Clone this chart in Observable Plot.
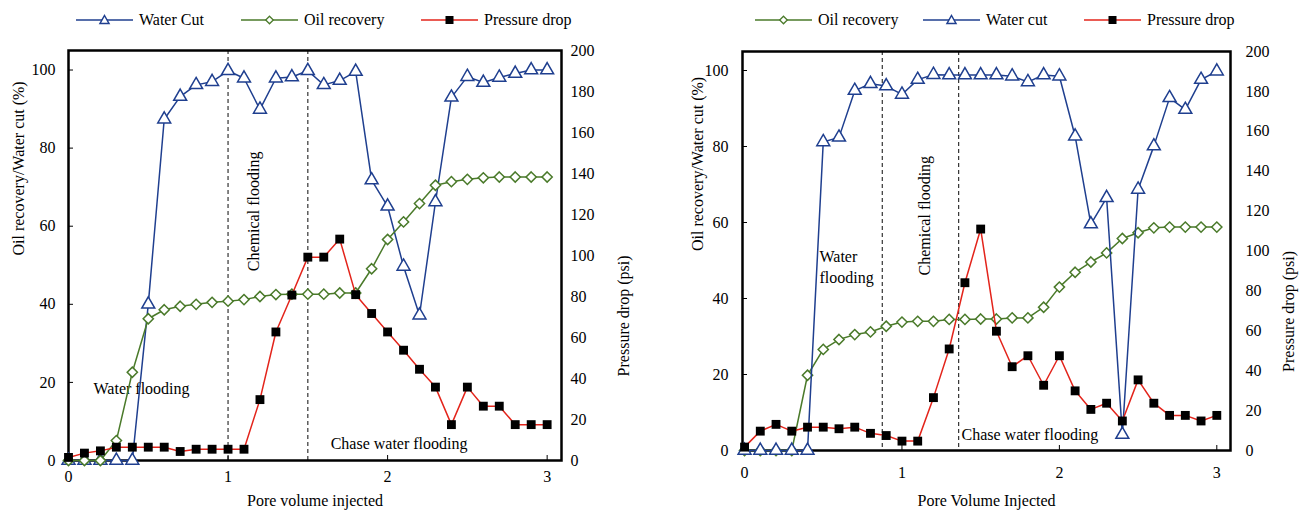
<!DOCTYPE html>
<html><head><meta charset="utf-8">
<script src="https://cdn.jsdelivr.net/npm/d3@7"></script>
<script src="https://cdn.jsdelivr.net/npm/@observablehq/plot@0.6"></script>
<style>
body{margin:0;background:#fff;font-family:"Liberation Serif","Times New Roman",Tinos,"DejaVu Serif","Noto Serif",serif;}
#wrap{position:relative;width:1304px;height:516px;overflow:hidden;background:#fff;}
.panel{position:absolute;top:0;width:652px;height:516px;}
.panel > svg{position:absolute;left:0;top:0;}
.leg{position:absolute;top:10px;height:20px;display:flex;align-items:center;font-size:16px;color:#000;white-space:nowrap;}
.leg svg{display:block;margin-right:6px;}
</style></head><body>
<div id="wrap"><div class="panel" id="pA" style="left:0"></div><div class="panel" id="pB" style="left:652px"></div></div>
<script>
// ---------- data ----------
const pvA = [0,0.1,0.2,0.3,0.4,0.5,0.6,0.7,0.8,0.9,1.0,1.1,1.2,1.3,1.4,1.5,1.6,1.7,1.8,1.9,2.0,2.1,2.2,2.3,2.4,2.5,2.6,2.7,2.8,2.9,3.0];
const waterCutA = [0,0,0,0,0,40,87.4,93.2,96.2,97,99.8,97.9,89.9,97.9,98.2,99.8,96.2,97.3,99.6,71.8,65.1,49.7,37.2,66.2,93,98.3,96.8,98.1,99.1,100,100];
const oilRecA = [0,0,0,5.1,22.6,36.3,38.6,39.5,40,40.5,40.8,41.2,42,42.5,42.6,42.6,42.6,42.9,42.9,49.1,56.6,61.1,65.8,70.5,71.4,72,72.4,72.6,72.6,72.6,72.6];
const pressureA = [1.5,3.6,4.7,6.5,6.5,6.5,6.5,4.4,5.5,5.5,5.5,5.5,29.7,62.7,80.7,99.2,99.2,108,80.9,71.7,62.7,53.8,44.5,35.8,17.5,35.8,26.5,26.5,17.5,17.5,17.5];
const stagesA = [1, 1.5];
const notesA = [
  {t:"Water flooding", x:0.157, y:18.7, r:0},
  {t:"Chemical flooding", x:1.16, y:63.8, r:-90},
  {t:"Chase water flooding", x:1.643, y:4.6, r:0}
];

const pvB = [0,0.1,0.2,0.3,0.4,0.5,0.6,0.7,0.8,0.9,1.0,1.1,1.2,1.3,1.4,1.5,1.6,1.7,1.8,1.9,2.0,2.1,2.2,2.3,2.4,2.5,2.6,2.7,2.8,2.9,3.0];
const oilRecB = [0,0,0,0,19.8,26.6,29.2,30.5,31.2,32.7,33.8,34,34,34.5,34.5,34.6,34.6,34.9,34.9,37.7,43,46.9,49.6,52,55.8,57.3,58.6,58.8,58.8,58.8,58.8];
const waterCutB = [0,0,0,0,0,81.2,82.4,94.7,96.5,95.9,93.7,97.6,98.9,98.8,98.8,98.8,98.8,98.5,97,98.8,98.5,82.7,59.6,66.5,4.2,68.7,80.1,92.8,89.7,97.6,99.8];
const pressureB = [1.7,9.7,13.1,9.7,11.7,11.7,10.9,11.7,8.6,7.5,4.7,4.7,26.5,50.9,84.1,111,59.8,42,47.5,32.7,47.5,29.9,20.6,23.7,14.8,35.4,23.7,17.6,17.6,14.8,17.6];
const stagesB = [0.875, 1.36];
const notesB = [
  {t:"Water\nflooding", x:0.476, y:48.7, r:0},
  {t:"Chemical flooding", x:1.143, y:61.8, r:-90},
  {t:"Chase water flooding", x:1.378, y:4.5, r:0}
];

const xTicks = [0,1,2,3];
const leftTicks = [0,20,40,60,80,100];
const rightTicks = [0,20,40,60,80,100,120,140,160,180,200];

// ---------- style ----------
const FONT = '"Liberation Serif","Times New Roman",Tinos,"DejaVu Serif","Noto Serif",serif';
const COL = {water:"#1f3f8f", oil:"#4a7a2a", pressure:"#e3241b"};

function rows(pv, vals){ return pv.map((x,i)=>({x, v:vals[i]})); }

function seriesMarks(kind, data){
  if (kind === "water") return [
    Plot.line(data,{x:"x",y:"v",stroke:COL.water,strokeWidth:1.5}),
    Plot.dot(data,{x:"x",y:"v",symbol:"triangle",r:4.8,stroke:COL.water,strokeWidth:1.5,fill:"white"})
  ];
  if (kind === "oil") return [
    Plot.line(data,{x:"x",y:"v",stroke:COL.oil,strokeWidth:1.5}),
    Plot.dot(data,{x:"x",y:"v",symbol:"diamond2",r:4.6,stroke:COL.oil,strokeWidth:1.5,fill:"white"})
  ];
  return [
    Plot.line(data,{x:"x",y:"v",stroke:COL.pressure,strokeWidth:1.5}),
    Plot.dot(data,{x:"x",y:"v",symbol:"square",r:5,fill:"black",stroke:"none"})
  ];
}

function drawPanel(el, c){
  const common = {
    width:652, height:516,
    marginLeft:c.ml, marginRight:c.mr, marginTop:c.mt, marginBottom:c.mb,
    style:{fontFamily:FONT, fontSize:"16px", color:"#000", background:"transparent", overflow:"visible"}
  };
  const base = Plot.plot({
    ...common,
    x:{domain:c.xDomain, label:null, axis:null},
    y:{domain:[0,105], label:null, axis:null},
    marks:[
      Plot.ruleX(c.stages,{stroke:"#333",strokeWidth:1.2,strokeDasharray:"4,3"}),
      Plot.axisX(xTicks,{tickSize:-5,tickPadding:c.xpad,fontSize:16,stroke:"#000",tickFormat:d=>String(d)}),
      Plot.axisY(leftTicks,{tickSize:-5,tickPadding:c.ypad,fontSize:16,stroke:"#000",tickFormat:d=>String(d)}),
      Plot.text([c.xTitle],{frameAnchor:"bottom",dy:c.xTitleDy,fontSize:16}),
      Plot.text([c.yTitle],{frameAnchor:"left",dx:c.yTitleDx,rotate:-90,fontSize:16}),
      Plot.text(c.notes.filter(d=>d.r===0),{x:"x",y:"y",text:"t",textAnchor:"start",fontSize:16,lineHeight:1.35}),
      Plot.text(c.notes.filter(d=>d.r!==0),{x:"x",y:"y",text:"t",rotate:-90,fontSize:16}),
      Plot.frame({stroke:"#000",strokeWidth:2.5}),
      ...c.order.flatMap(k => k==="pressure" ? [] : seriesMarks(k, c.data[k]))
    ]
  });
  const over = Plot.plot({
    ...common,
    x:{domain:c.xDomain, label:null, axis:null},
    y:{domain:[0,200], label:null, axis:null},
    marks:[
      Plot.axisY(rightTicks,{anchor:"right",tickSize:0,tickPadding:c.rpad,fontSize:16,tickFormat:d=>String(d)}),
      Plot.text([c.y2Title],{frameAnchor:"right",dx:c.y2TitleDx,rotate:-90,fontSize:16}),
      ...seriesMarks("pressure", c.data.pressure)
    ]
  });
  el.appendChild(base);
  el.appendChild(over);

  // legend
  const sw = {
    water:`<svg width="57" height="14"><line x1="0" y1="7" x2="57" y2="7" stroke="${COL.water}" stroke-width="1.5"/><polygon points="28.5,2.5 33,10.5 24,10.5" fill="white" stroke="${COL.water}" stroke-width="1.5"/></svg>`,
    oil:`<svg width="57" height="14"><line x1="0" y1="7" x2="57" y2="7" stroke="${COL.oil}" stroke-width="1.5"/><polygon points="28.5,3.2 32.3,7 28.5,10.8 24.7,7" fill="white" stroke="${COL.oil}" stroke-width="1.3"/></svg>`,
    pressure:`<svg width="57" height="14"><line x1="0" y1="7" x2="57" y2="7" stroke="${COL.pressure}" stroke-width="1.5"/><rect x="24.5" y="3" width="8" height="8" fill="black"/></svg>`
  };
  c.legend.forEach((it,i)=>{
    const d = document.createElement("div");
    d.className = "leg";
    d.style.left = c.legendLeft[i] + "px";
    d.innerHTML = sw[it.k] + `<span>${it.label}</span>`;
    el.appendChild(d);
  });
}

drawPanel(document.getElementById("pA"), {
  ml:68, mr:91, mt:50, mb:56, xDomain:[0,3.09],
  xpad:15, ypad:18, rpad:9,
  xTitle:"Pore volume injected", xTitleDy:45,
  yTitle:"Oil recovery/Water cut (%)", yTitleDx:-50,
  y2Title:"Pressure drop (psi)", y2TitleDx:62,
  stages:stagesA, notes:notesA,
  order:["water","oil","pressure"],
  data:{water:rows(pvA,waterCutA), oil:rows(pvA,oilRecA), pressure:rows(pvA,pressureA)},
  legend:[{k:"water",label:"Water Cut"},{k:"oil",label:"Oil recovery"},{k:"pressure",label:"Pressure drop"}],
  legendLeft:[76,241,421]
});
drawPanel(document.getElementById("pB"), {
  ml:90, mr:74, mt:51, mb:66, xDomain:[-0.013,3.087],
  xpad:21, ypad:19, rpad:15,
  xTitle:"Pore Volume Injected", xTitleDy:55,
  yTitle:"Oil recovery/Water cut (%)", yTitleDx:-45,
  y2Title:"Pressure drop (psi)", y2TitleDx:58,
  stages:stagesB, notes:notesB,
  order:["oil","water","pressure"],
  data:{water:rows(pvB,waterCutB), oil:rows(pvB,oilRecB), pressure:rows(pvB,pressureB)},
  legend:[{k:"oil",label:"Oil recovery"},{k:"water",label:"Water cut"},{k:"pressure",label:"Pressure drop"}],
  legendLeft:[103,271,432]
});
</script>
</body></html>
